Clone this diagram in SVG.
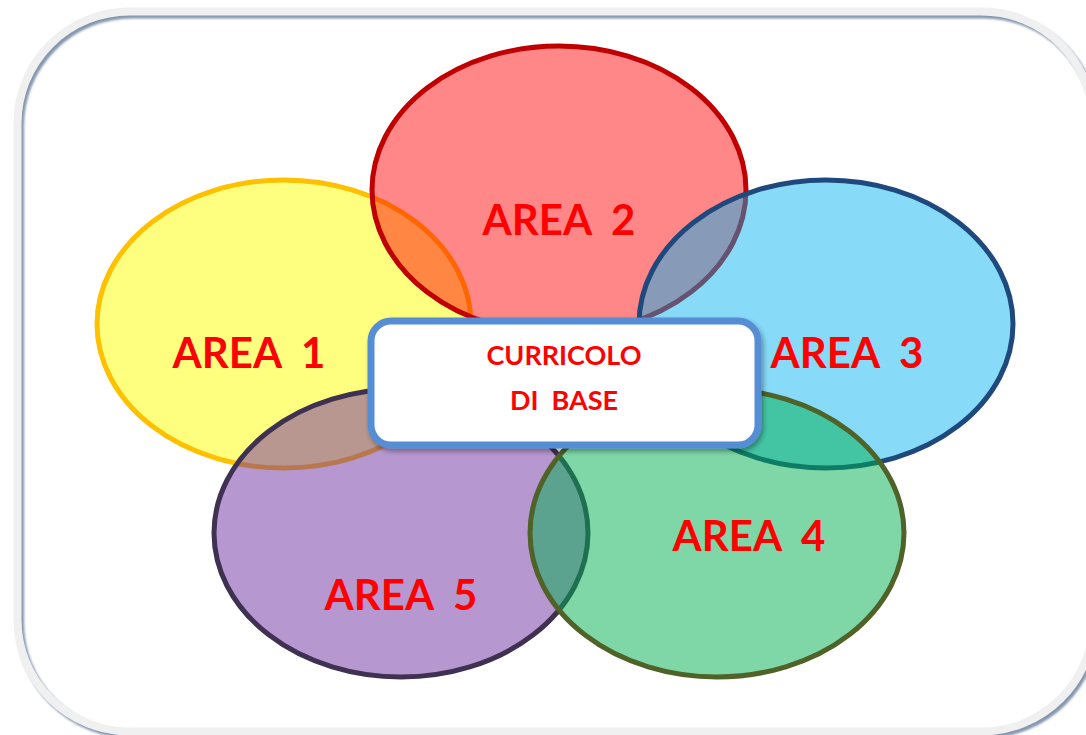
<svg xmlns="http://www.w3.org/2000/svg" width="1086" height="735" viewBox="0 0 1086 735">
  <defs>
    <filter id="frameShadow" x="-5%" y="-5%" width="110%" height="110%">
      <feGaussianBlur stdDeviation="1.3"/>
    </filter>
    <filter id="boxShadow" x="-10%" y="-20%" width="120%" height="140%">
      <feDropShadow dx="2" dy="3" stdDeviation="2.5" flood-color="#000000" flood-opacity="0.35"/>
    </filter>
  </defs>
  <style>
    .area { stroke-width: 5; }
    .lbl { font-family: Lato, "Liberation Sans", Arial, sans-serif; font-weight: bold; fill: #FF0000; font-size: 42px; text-anchor: middle; white-space: pre; }
    .ctr { font-family: Lato, "Liberation Sans", Arial, sans-serif; font-weight: bold; fill: #FF0000; font-size: 27px; text-anchor: middle; white-space: pre; }
  </style>
  <rect width="1086" height="735" fill="#FFFFFF"/>
  <g id="frame">
    <rect x="17.5" y="11.5" width="1076" height="720" rx="112" ry="112" fill="#FFFFFF"/>
    <rect x="20" y="14.5" width="1076" height="720" rx="112" ry="112" fill="none" stroke="#8597AE" stroke-width="8" filter="url(#frameShadow)"/>
    <rect x="17.5" y="11.5" width="1076" height="720" rx="112" ry="112" fill="none" stroke="#F0F0F0" stroke-width="8"/>
  </g>
  <g id="area1">
    <ellipse class="area" cx="284" cy="324" rx="187" ry="144" fill="#FFFF00" fill-opacity="0.5" stroke="#FFC000"/>
    <text class="lbl" x="249" y="368">AREA  1</text>
  </g>
  <g id="area2">
    <ellipse class="area" cx="559" cy="190" rx="187" ry="144" fill="#FF0000" fill-opacity="0.47" stroke="#C00000"/>
    <text class="lbl" x="559" y="235">AREA  2</text>
  </g>
  <g id="area3">
    <ellipse class="area" cx="826" cy="324" rx="187" ry="144" fill="#00B0F0" fill-opacity="0.47" stroke="#1F497D"/>
    <text class="lbl" x="847" y="368">AREA  3</text>
  </g>
  <g id="area5">
    <ellipse class="area" cx="401" cy="533" rx="187" ry="144" fill="#7030A0" fill-opacity="0.5" stroke="#3F3151"/>
    <text class="lbl" x="401" y="610">AREA  5</text>
  </g>
  <g id="area4">
    <ellipse class="area" cx="717" cy="533" rx="187" ry="144" fill="#00B050" fill-opacity="0.5" stroke="#4F6228"/>
    <text class="lbl" x="749" y="551">AREA  4</text>
  </g>
  <g id="connectors"/>
  <g id="centro">
    <rect x="371" y="321" width="387" height="124" rx="20" ry="20" fill="#FFFFFF" stroke="#558ED5" stroke-width="7" filter="url(#boxShadow)"/>
    <text class="ctr" x="564" y="365">CURRICOLO</text>
    <text class="ctr" x="564" y="410">DI  BASE</text>
  </g>
</svg>
